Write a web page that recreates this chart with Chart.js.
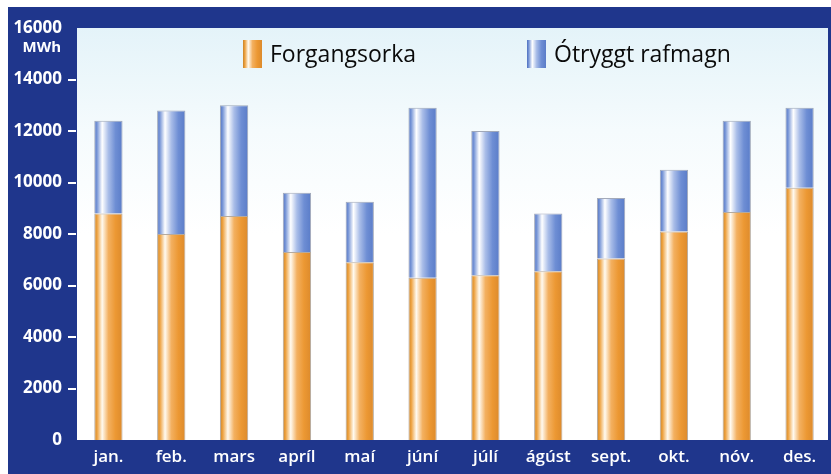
<!DOCTYPE html>
<html lang="is">
<head>
    <meta charset="UTF-8">
    <title>Forgangsorka og ótryggt rafmagn</title>
    <style>
        body {
            margin: 0;
            background-color: #fff;
        }
        #wrap {
            width: 831px;
            height: 474px;
        }
    </style>
    <script src="https://cdn.jsdelivr.net/npm/chart.js"></script>
</head>
<body>
    <div id="wrap">
        <canvas id="chart" width="831" height="474"></canvas>
    </div>

    <script>
        // Data (MWh per month)
        const months = ['jan.', 'feb.', 'mars', 'apríl', 'maí', 'júní', 'júlí', 'ágúst', 'sept.', 'okt.', 'nóv.', 'des.'];
        const seriesNames = ['Forgangsorka', 'Ótryggt rafmagn'];
        const forgangsorka = [8800, 8000, 8700, 7300, 6900, 6300, 6400, 6550, 7050, 8100, 8850, 9800];
        const otryggt = [3600, 4800, 4300, 2300, 2350, 6600, 5600, 2250, 2350, 2400, 3550, 3100];
        const yMax = 16000;
        const yStep = 2000;
        const unitLabel = 'MWh';

        const NAVY = '#1f368c';
        const FONT = "'Open Sans', sans-serif";
        const BAR_PCT = 0.45;

        const orangeStops = [[0, '#c98328'], [0.1, '#eea240'], [0.28, '#fffaf0'], [0.5, '#f3b060'], [0.75, '#ec9833'], [1, '#dc8a2c']];
        const blueStops = [[0, '#4f70c0'], [0.1, '#7a98d8'], [0.28, '#ffffff'], [0.5, '#a9bde8'], [0.75, '#6e8ed4'], [1, '#5a7cc8']];

        function hGradient(ctx, x0, x1, stops) {
            const g = ctx.createLinearGradient(x0, 0, x1, 0);
            stops.forEach(s => g.addColorStop(s[0], s[1]));
            return g;
        }

        function barFill(stops, fallback) {
            return function (context) {
                const chart = context.chart;
                if (!chart.chartArea || context.dataIndex === undefined) return fallback;
                const x = chart.scales.x.getPixelForValue(context.dataIndex);
                const w = chart.chartArea.width / months.length * BAR_PCT;
                return hGradient(chart.ctx, x - w / 2, x + w / 2, stops);
            };
        }

        // frame, plot background, tick marks, legend and unit label
        const decor = {
            id: 'decor',
            beforeDraw(chart) {
                const ctx = chart.ctx;
                const a = chart.chartArea;
                ctx.save();
                ctx.fillStyle = NAVY;
                ctx.fillRect(8, 7, chart.width - 8, chart.height - 7);
                const bg = ctx.createLinearGradient(0, a.top, 0, a.bottom);
                bg.addColorStop(0, '#e4f3f9');
                bg.addColorStop(0.25, '#f5fbfd');
                bg.addColorStop(0.5, '#ffffff');
                bg.addColorStop(1, '#ffffff');
                ctx.fillStyle = bg;
                ctx.fillRect(a.left, a.top, a.right - a.left - 3, a.bottom - a.top);
                ctx.restore();
            },
            afterDraw(chart) {
                const ctx = chart.ctx;
                const a = chart.chartArea;
                const yScale = chart.scales.y;
                ctx.save();
                // short white tick marks left of the plot
                ctx.fillStyle = '#ffffff';
                yScale.ticks.forEach(t => {
                    if (t.value === 0 || t.value === yMax) return;
                    const py = Math.round(yScale.getPixelForValue(t.value));
                    ctx.fillRect(a.left - 9, py - 1, 8, 2);
                });

                // unit under top tick
                ctx.font = 'bold 15px ' + FONT;
                ctx.textAlign = 'right';
                ctx.textBaseline = 'middle';
                ctx.fillText(unitLabel, 61, 48);

                // legend inside plot
                const items = [
                    { x: 243, stops: orangeStops, text: seriesNames[0] },
                    { x: 527, stops: blueStops, text: seriesNames[1] }
                ];
                items.forEach(it => {
                    ctx.fillStyle = hGradient(ctx, it.x, it.x + 19, it.stops);
                    ctx.fillRect(it.x, 40, 19, 28);
                    ctx.fillStyle = '#0a0a0a';
                    ctx.font = '23px ' + FONT;
                    ctx.textAlign = 'left';
                    ctx.textBaseline = 'middle';
                    ctx.fillText(it.text, it.x + 27, 55);
                });
                ctx.restore();
            }
        };

        new Chart(document.getElementById('chart'), {
            type: 'bar',
            data: {
                labels: months,
                datasets: [{
                    label: seriesNames[0],
                    data: forgangsorka,
                    backgroundColor: barFill(orangeStops, '#ec9833'),
                    borderColor: 'rgba(120, 100, 80, 0.55)',
                    borderWidth: 1,
                    barPercentage: BAR_PCT,
                    categoryPercentage: 1
                }, {
                    label: seriesNames[1],
                    data: otryggt,
                    backgroundColor: barFill(blueStops, '#6e8ed4'),
                    borderColor: 'rgba(90, 100, 130, 0.55)',
                    borderWidth: 1,
                    barPercentage: BAR_PCT,
                    categoryPercentage: 1
                }]
            },
            options: {
                responsive: false,
                animation: false,
                layout: {
                    padding: { top: 28, left: 0, right: 0, bottom: 0 }
                },
                plugins: {
                    legend: { display: false },
                    tooltip: { enabled: false }
                },
                scales: {
                    x: {
                        stacked: true,
                        grid: { display: false, drawTicks: false },
                        border: { display: false },
                        ticks: {
                            color: '#fff',
                            padding: 7,
                            font: { family: FONT, size: 17, weight: '600' }
                        },
                        afterFit(scale) { scale.height = 34; }
                    },
                    y: {
                        stacked: true,
                        min: 0,
                        max: yMax,
                        border: { display: false },
                        grid: { display: false, drawTicks: false },
                        ticks: {
                            stepSize: yStep,
                            color: '#fff',
                            padding: 15,
                            font: { family: FONT, size: 17, weight: 'bold' },
                            callback: v => String(v)
                        },
                        afterFit(scale) { scale.width = 77; }
                    }
                }
            },
            plugins: [decor]
        });
    </script>
</body>
</html>
